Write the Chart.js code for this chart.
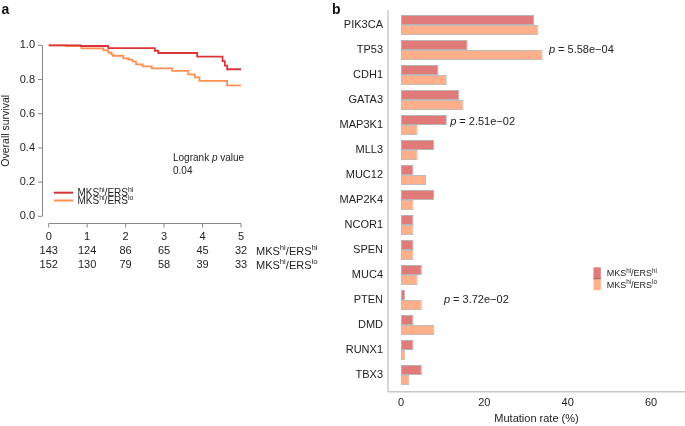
<!DOCTYPE html>
<html>
<head>
<meta charset="utf-8">
<script src="https://cdn.jsdelivr.net/npm/chart.js@4.4.0/dist/chart.umd.min.js"></script>
<style>
  body { margin: 0; background: #fff; width: 685px; height: 426px; overflow: hidden; position: relative; }
  canvas { position: absolute; top: 0; }
  #km { left: 0; }
  #mut { left: 330px; }
</style>
</head>
<body>
<canvas id="km" width="330" height="290"></canvas>
<canvas id="mut" width="355" height="426"></canvas>
<script>
const FONT = "'Liberation Sans', Arial, sans-serif";
const INK = "#222";

/* Panel a: Kaplan-Meier steps (time in years, survival) */
const kmTimeHi = [0, 0.83, 1.55, 2.76, 2.85, 3.86, 4.52, 4.58, 4.64, 5];
const kmSurvHi = [1, 0.996, 0.983, 0.968, 0.955, 0.934, 0.908, 0.881, 0.86, 0.86];
const kmTimeLo = [0, 0.45, 0.85, 1.42, 1.55, 1.63, 1.67, 1.94, 2.07, 2.18, 2.27, 2.44, 2.68, 3.21, 3.63, 3.8, 3.92, 4.64, 5];
const kmSurvLo = [1, 0.996, 0.982, 0.97, 0.957, 0.947, 0.939, 0.924, 0.916, 0.904, 0.888, 0.877, 0.865, 0.85, 0.83, 0.813, 0.792, 0.766, 0.766];
const riskTimes = [0, 1, 2, 3, 4, 5];
const riskHi = [143, 124, 86, 65, 45, 32];
const riskLo = [152, 130, 79, 58, 39, 33];
const logrankP = "0.04";

/* Panel b: mutation rates (%) */
const genes = ["PIK3CA", "TP53", "CDH1", "GATA3", "MAP3K1", "MLL3", "MUC12", "MAP2K4",
               "NCOR1", "SPEN", "MUC4", "PTEN", "DMD", "RUNX1", "TBX3"];
const rateHi = [32, 16, 9, 14, 11, 8, 3, 8, 3, 3, 5, 1, 3, 3, 5];
const rateLo = [33, 34, 11, 15, 4, 4, 6, 3, 3, 3, 4, 5, 8, 1, 2];
const pGenes = ["TP53", "MAP3K1", "PTEN"];
const pValues = ["5.58e\u221204", "2.51e\u221202", "3.72e\u221202"];
const rateTicks = [0, 20, 40, 60];

const RED = "#d8363a", ORANGE = "#ff8f50";
const BAR_HI = "#e07b79", BAR_LO = "#ffb08a";

// label parts: [text, superscript?]
const LAB_HI = [["MKS"], ["hi", 1], ["/ERS"], ["hi", 1]];
const LAB_LO = [["MKS"], ["hi", 1], ["/ERS"], ["lo", 1]];

/* draw text with superscripts, y is the baseline */
function rich(ctx, parts, x, y, size, align) {
  const sup = size * 0.7;
  let w = 0;
  parts.forEach(([t, s]) => { ctx.font = (s ? sup : size) + "px " + FONT; w += ctx.measureText(t).width; });
  let cx = align === "right" ? x - w : align === "center" ? x - w / 2 : x;
  ctx.textAlign = "left";
  ctx.textBaseline = "alphabetic";
  parts.forEach(([t, s]) => {
    ctx.font = (s ? sup : size) + "px " + FONT;
    ctx.fillText(t, cx, s ? y - size * 0.4 : y);
    cx += ctx.measureText(t).width;
  });
}

function panelLabel(ctx, txt, x) {
  ctx.fillStyle = "#111";
  ctx.font = "bold 14px " + FONT;
  ctx.textAlign = "left";
  ctx.textBaseline = "alphabetic";
  ctx.fillText(txt, x, 14);
}

/* Survival panel extras: offset axes, legend, logrank, number at risk */
const kmDecor = {
  id: "kmDecor",
  afterDraw(chart) {
    const { ctx, chartArea: ca, scales: { x, y } } = chart;
    ctx.save();
    // axis lines, set off from the data area like base R plots
    const ax = Math.round(ca.left - 7) + 0.5;
    const ay = Math.round(ca.bottom + 7) + 0.5;
    const y0 = y.getPixelForValue(0), y1 = y.getPixelForValue(1);
    const x0 = x.getPixelForValue(0), x5 = x.getPixelForValue(5);
    ctx.fillStyle = "#888";
    ctx.fillRect(ax - 0.5, y1, 1, y0 - y1);
    y.ticks.forEach(t => {
      const py = y.getPixelForValue(t.value);
      ctx.fillRect(ax - 4.5, py - 0.5, 4, 1);
    });
    ctx.fillRect(x0, ay - 0.5, x5 - x0, 1);
    x.ticks.forEach(t => {
      const px = x.getPixelForValue(t.value);
      ctx.fillRect(px - 0.5, ay, 1, 4);
    });

    // legend
    const lg = [[RED, LAB_HI, 192.7], [ORANGE, LAB_LO, 200.5]];
    lg.forEach(([c, lab, ly]) => {
      ctx.strokeStyle = c;
      ctx.lineWidth = 2;
      ctx.beginPath();
      ctx.moveTo(54, ly);
      ctx.lineTo(73, ly);
      ctx.stroke();
      ctx.fillStyle = INK;
      rich(ctx, lab, 77.5, ly + 3.6, 10, "left");
    });

    // logrank
    ctx.fillStyle = INK;
    ctx.textBaseline = "middle";
    ctx.textAlign = "left";
    ctx.font = "10px " + FONT;
    let tx = 173;
    ctx.fillText("Logrank ", tx, 158);
    tx += ctx.measureText("Logrank ").width;
    ctx.font = "italic 10px " + FONT;
    ctx.fillText("p", tx, 158);
    tx += ctx.measureText("p").width;
    ctx.font = "10px " + FONT;
    ctx.fillText(" value", tx, 158);
    ctx.fillText(logrankP, 173, 171);

    // number at risk
    ctx.font = "11px " + FONT;
    ctx.textAlign = "center";
    riskTimes.forEach((t, i) => {
      const px = x.getPixelForValue(t);
      ctx.fillText(String(riskHi[i]), px, 250.5);
      ctx.fillText(String(riskLo[i]), px, 264.5);
    });
    rich(ctx, LAB_HI, 256, 254.5, 11, "left");
    rich(ctx, LAB_LO, 256, 268.5, 11, "left");

    panelLabel(ctx, "a", 1.5);
    ctx.restore();
  }
};

new Chart(document.getElementById("km"), {
  type: "line",
  data: {
    datasets: [
      {
        data: kmTimeHi.map((t, i) => ({ x: t, y: kmSurvHi[i] })),
        borderColor: RED, borderWidth: 1.8, stepped: true,
        pointRadius: 0, fill: false, clip: false
      },
      {
        data: kmTimeLo.map((t, i) => ({ x: t, y: kmSurvLo[i] })),
        borderColor: ORANGE, borderWidth: 1.8, stepped: true,
        pointRadius: 0, fill: false, clip: false
      }
    ]
  },
  options: {
    responsive: false,
    animation: false,
    events: [],
    layout: { padding: { top: 45.3, right: 89, left: 0, bottom: 0 } },
    plugins: { legend: { display: false }, tooltip: { enabled: false } },
    scales: {
      x: {
        type: "linear", min: 0, max: 5,
        grid: { display: false, drawTicks: false }, border: { display: false },
        ticks: { stepSize: 1, padding: 14.5, color: INK, font: { family: FONT, size: 11 } },
        afterFit: s => { s.height = 73.7; }
      },
      y: {
        type: "linear", min: 0, max: 1,
        grid: { display: false, drawTicks: false }, border: { display: false },
        ticks: { stepSize: 0.2, padding: 13.7, color: INK, font: { family: FONT, size: 11 },
                 callback: v => v.toFixed(1) },
        title: { display: true, text: "Overall survival", color: INK,
                 font: { family: FONT, size: 10.5 }, padding: 0 },
        afterFit: s => { s.width = 48.7; }
      }
    }
  },
  plugins: [kmDecor]
});

/* Mutation panel extras: axis lines, legend, p-values */
const mutDecor = {
  id: "mutDecor",
  afterDraw(chart) {
    const { ctx, chartArea: ca, scales: { x, y } } = chart;
    ctx.save();
    ctx.strokeStyle = "#c9c9c9";
    ctx.lineWidth = 1.5;
    ctx.beginPath();
    ctx.moveTo(ca.left, ca.top - 2.5);
    ctx.lineTo(ca.left, ca.bottom + 4.2);
    ctx.lineTo(ca.right, ca.bottom + 4.2);
    ctx.stroke();

    // p-value notes
    const noteX = { TP53: 35.5, MAP3K1: 11.8, PTEN: 10.3 };
    const noteDy = { TP53: 0, MAP3K1: -3, PTEN: 0 };
    ctx.fillStyle = INK;
    ctx.textAlign = "left";
    ctx.textBaseline = "middle";
    pGenes.forEach((g, i) => {
      let px = x.getPixelForValue(noteX[g]);
      const py = y.getPixelForValue(genes.indexOf(g)) + noteDy[g];
      ctx.font = "italic 11px " + FONT;
      ctx.fillText("p", px, py);
      px += ctx.measureText("p").width;
      ctx.font = "11px " + FONT;
      ctx.fillText(" = " + pValues[i], px, py);
    });

    // legend
    const lg = [[BAR_HI, LAB_HI, 267.3], [BAR_LO, LAB_LO, 278.7]];
    lg.forEach(([c, lab, top]) => {
      ctx.fillStyle = c;
      ctx.fillRect(263.5, top, 7.3, 11.4);
      ctx.fillStyle = INK;
      rich(ctx, lab, 276.7, top + 9, 9, "left");
    });
    ctx.strokeStyle = "#8a4a48";
    ctx.lineWidth = 0.8;
    ctx.beginPath();
    ctx.moveTo(263.5, 278.7);
    ctx.lineTo(270.8, 278.7);
    ctx.stroke();

    panelLabel(ctx, "b", 2);
    ctx.restore();
  }
};

new Chart(document.getElementById("mut"), {
  type: "bar",
  data: {
    labels: genes,
    datasets: [
      { data: rateHi, backgroundColor: BAR_HI, borderColor: "#b9b3b3", borderWidth: 1, borderSkipped: false },
      { data: rateLo, backgroundColor: BAR_LO, borderColor: "#c4bbb6", borderWidth: 1, borderSkipped: false }
    ]
  },
  options: {
    indexAxis: "y",
    responsive: false,
    animation: false,
    events: [],
    layout: { padding: { top: 12.5, right: 0, left: 0, bottom: 0 } },
    datasets: { bar: { categoryPercentage: 0.8, barPercentage: 1.0 } },
    plugins: { legend: { display: false }, tooltip: { enabled: false } },
    scales: {
      x: {
        type: "linear", min: -3.12, max: 68.16,
        grid: { display: false, drawTicks: false }, border: { display: false },
        afterBuildTicks: s => { s.ticks = rateTicks.map(v => ({ value: v })); },
        ticks: { padding: 8.5, color: INK, font: { family: FONT, size: 11 } },
        title: { display: true, text: "Mutation rate (%)", color: INK,
                 font: { family: FONT, size: 11 }, padding: { top: 3, bottom: 0 } },
        afterFit: s => { s.height = 38.5; }
      },
      y: {
        grid: { display: false, drawTicks: false }, border: { display: false },
        ticks: { padding: 5, color: INK, font: { family: FONT, size: 11 } },
        afterFit: s => { s.width = 58; }
      }
    }
  },
  plugins: [mutDecor]
});
</script>
</body>
</html>
